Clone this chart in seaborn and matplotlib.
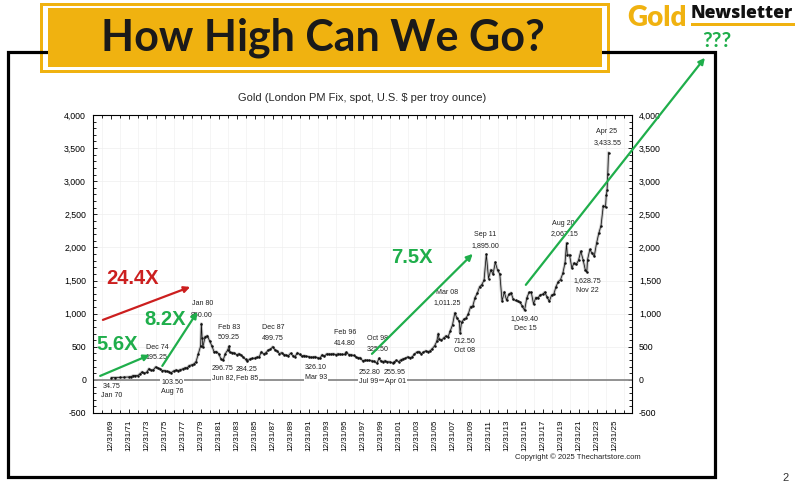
import numpy as np
import pandas as pd
import matplotlib
matplotlib.use("Agg")
import matplotlib.pyplot as plt
import seaborn as sns
from matplotlib.patches import Rectangle
from matplotlib.ticker import MultipleLocator, FuncFormatter

W, H = 800, 492

# gold price, London PM fix
dates = [
    "1970-01", "1970-06", "1970-12", "1971-06", "1971-12", "1972-03", "1972-06", "1972-09", "1972-12",
    "1973-03", "1973-06", "1973-09", "1973-12", "1974-03", "1974-06", "1974-09", "1974-12",
    "1975-03", "1975-06", "1975-09", "1975-12", "1976-03", "1976-06", "1976-08", "1976-12",
    "1977-03", "1977-06", "1977-09", "1977-12", "1978-03", "1978-06", "1978-09", "1978-12",
    "1979-03", "1979-06", "1979-09", "1979-12", "1980-01", "1980-02", "1980-03", "1980-06",
    "1980-09", "1980-12", "1981-03", "1981-06", "1981-09", "1981-12", "1982-03", "1982-06",
    "1982-09", "1982-12", "1983-02", "1983-03", "1983-06", "1983-09", "1983-12", "1984-03",
    "1984-06", "1984-09", "1984-12", "1985-02", "1985-06", "1985-09", "1985-12", "1986-03",
    "1986-06", "1986-09", "1986-12", "1987-03", "1987-06", "1987-09", "1987-12", "1988-03",
    "1988-06", "1988-09", "1988-12", "1989-03", "1989-06", "1989-09", "1989-12", "1990-03",
    "1990-06", "1990-09", "1990-12", "1991-03", "1991-06", "1991-09", "1991-12", "1992-03",
    "1992-06", "1992-09", "1992-12", "1993-03", "1993-06", "1993-09", "1993-12", "1994-03",
    "1994-06", "1994-09", "1994-12", "1995-03", "1995-06", "1995-09", "1995-12", "1996-02",
    "1996-06", "1996-09", "1996-12", "1997-03", "1997-06", "1997-09", "1997-12", "1998-03",
    "1998-06", "1998-09", "1998-12", "1999-03", "1999-07", "1999-10", "1999-12", "2000-03",
    "2000-06", "2000-09", "2000-12", "2001-04", "2001-06", "2001-09", "2001-12", "2002-03",
    "2002-06", "2002-09", "2002-12", "2003-03", "2003-06", "2003-09", "2003-12", "2004-03",
    "2004-06", "2004-09", "2004-12", "2005-03", "2005-06", "2005-09", "2005-12", "2006-03",
    "2006-05", "2006-06", "2006-09", "2006-12", "2007-03", "2007-06", "2007-09", "2007-12",
    "2008-03", "2008-06", "2008-09", "2008-10", "2008-12", "2009-03", "2009-06", "2009-09",
    "2009-12", "2010-03", "2010-06", "2010-09", "2010-12", "2011-03", "2011-06", "2011-09",
    "2011-12", "2012-03", "2012-06", "2012-09", "2012-12", "2013-03", "2013-06", "2013-09",
    "2013-12", "2014-03", "2014-06", "2014-09", "2014-12", "2015-03", "2015-06", "2015-09",
    "2015-12", "2016-03", "2016-06", "2016-09", "2016-12", "2017-03", "2017-06", "2017-09",
    "2017-12", "2018-03", "2018-06", "2018-09", "2018-12", "2019-03", "2019-06", "2019-09",
    "2019-12", "2020-03", "2020-06", "2020-08", "2020-09", "2020-12", "2021-03", "2021-06",
    "2021-09", "2021-12", "2022-03", "2022-06", "2022-09", "2022-11", "2022-12", "2023-03",
    "2023-06", "2023-09", "2023-12", "2024-03", "2024-06", "2024-09", "2024-12", "2025-01",
    "2025-02", "2025-03", "2025-04",
]
prices = [
    34.75, 35.5, 37.4, 40.1, 43.6, 48.5, 65.0, 65.5, 64.9,
    90.0, 120.0, 100.0, 112.3, 168.0, 144.0, 151.8, 195.25,
    177.0, 166.3, 141.3, 140.25, 128.0, 123.8, 103.5, 134.5,
    148.9, 140.8, 154.1, 165.0, 181.0, 183.0, 217.0, 226.0,
    240.0, 277.5, 397.0, 512.0, 850.0, 637.0, 494.0, 653.0,
    666.0, 590.0, 513.0, 422.0, 428.0, 397.0, 320.0, 296.75,
    397.0, 448.0, 509.25, 414.0, 412.0, 405.0, 380.0, 394.0,
    373.0, 341.0, 309.0, 284.25, 317.0, 326.0, 327.0, 344.0,
    345.0, 423.0, 391.0, 409.0, 448.0, 460.0, 499.75, 457.0,
    436.0, 397.0, 410.0, 383.0, 373.0, 366.0, 401.0, 368.0,
    352.0, 408.0, 386.0, 356.0, 368.0, 354.0, 353.0, 341.0,
    343.0, 349.0, 333.0, 326.10, 378.0, 356.0, 391.0, 389.0,
    388.0, 394.0, 383.0, 392.0, 387.0, 384.0, 387.0, 414.80,
    382.0, 379.0, 369.0, 348.0, 334.0, 332.0, 290.0, 297.0,
    296.0, 293.0, 288.0, 280.0, 252.80, 325.50, 290.0, 277.0,
    288.0, 273.0, 272.0, 255.95, 270.0, 293.0, 276.0, 301.0,
    318.0, 324.0, 347.0, 334.0, 346.0, 388.0, 416.0, 427.0,
    395.0, 415.0, 438.0, 427.0, 437.0, 473.0, 513.0, 582.0,
    700.0, 613.0, 599.0, 632.0, 663.0, 650.0, 743.0, 833.0,
    1011.25, 930.0, 884.0, 712.50, 869.0, 916.0, 934.0, 996.0,
    1104.0, 1115.0, 1244.0, 1307.0, 1405.0, 1439.0, 1505.0, 1895.0,
    1531.0, 1662.0, 1598.0, 1776.0, 1657.0, 1598.0, 1192.0, 1326.0,
    1204.0, 1291.0, 1315.0, 1216.0, 1199.0, 1187.0, 1171.0, 1114.0,
    1049.40, 1237.0, 1320.0, 1322.0, 1146.0, 1244.0, 1242.0, 1283.0,
    1291.0, 1325.0, 1250.0, 1187.0, 1279.0, 1295.0, 1409.0, 1485.0,
    1515.0, 1608.0, 1768.0, 2067.15, 1886.0, 1888.0, 1691.0, 1763.0,
    1743.0, 1806.0, 1942.0, 1817.0, 1661.0, 1628.75, 1813.0, 1969.0,
    1912.0, 1870.0, 2062.0, 2214.0, 2330.0, 2630.0, 2610.0, 2790.0,
    2860.0, 3115.0, 3433.55,
]

tick_years = [1970, 1972, 1974, 1976, 1978, 1980, 1982, 1984, 1986, 1988, 1990, 1992, 1994,
              1996, 1998, 2000, 2002, 2004, 2006, 2008, 2010, 2012, 2014, 2016, 2018, 2020,
              2022, 2024, 2026]
tick_labels = ["12/31/69", "12/31/71", "12/31/73", "12/31/75", "12/31/77", "12/31/79",
               "12/31/81", "12/31/83", "12/31/85", "12/31/87", "12/31/89", "12/31/91",
               "12/31/93", "12/31/95", "12/31/97", "12/31/99", "12/31/01", "12/31/03",
               "12/31/05", "12/31/07", "12/31/09", "12/31/11", "12/31/13", "12/31/15",
               "12/31/17", "12/31/19", "12/31/21", "12/31/23", "12/31/25"]

# point labels: text, x (year), y (price units)
label_text = ["34.75", "Jan 70", "Dec 74", "195.25", "103.50", "Aug 76", "Jan 80", "850.00",
              "Feb 83", "509.25", "296.75", "Jun 82", "284.25", "Feb 85", "Dec 87", "499.75",
              "326.10", "Mar 93", "Feb 96", "414.80", "Oct 98", "325.50", "252.80", "255.95",
              "Jul 99", "Apr 01", "Mar 08", "1,011.25", "712.50", "Oct 08", "Sep 11", "1,895.00",
              "1,049.40", "Dec 15", "Aug 20", "2,067.15", "1,628.75", "Nov 22", "Apr 25", "3,433.55"]
label_x = [1970.1, 1970.1, 1975.1, 1975.1, 1976.8, 1976.8, 1980.2, 1980.1,
           1983.1, 1983.1, 1982.4, 1982.4, 1985.1, 1985.1, 1988.0, 1988.0,
           1992.8, 1992.8, 1996.0, 1996.0, 1999.6, 1999.6, 1998.7, 2001.5,
           1998.6, 2001.6, 2007.4, 2007.4, 2009.3, 2009.3, 2011.6, 2011.6,
           2016.0, 2016.0, 2020.3, 2020.4, 2022.9, 2022.9, 2025.1, 2025.2]
label_y = [-106, -242, 483, 332, -45, -181, 1148, 967,
           785, 634, 166, 15, 151, 15, 785, 619,
           181, 30, 710, 544, 619, 453, 106, 106,
           -30, -30, 1314, 1163, 574, 438, 2190, 2024,
           921, 770, 2356, 2205, 1495, 1344, 3746, 3580]

# growth arrows: (x0, y0, x1, y1), multiplier text and its position
green_arrows = [(1968.8, 60, 1974.3, 377), (1975.7, 211, 1979.6, 1027),
                (1999.0, 393, 2010.2, 1903), (2016.1, 1435, 2036.0, 4864)]
red_arrow = (1969.1, 906, 1978.8, 1404)
mult_text = ["24.4X", "5.6X", "8.2X", "7.5X"]
mult_x = [1972.4, 1970.7, 1976.0, 2003.4]
mult_y = [1525, 528, 906, 1842]
mult_color = ["#cc1f1f", "#1fae4b", "#1fae4b", "#1fae4b"]

GOLD = "#f0b210"
GREEN = "#1fae4b"

sns.set_theme(style="ticks")
plt.rcParams["font.family"] = ["Liberation Sans", "DejaVu Sans"]


def fx(px):
    return px / W


def fy(py):
    return 1 - py / H


def year_of(s):
    y, m = s.split("-")
    return int(y) + (int(m) - 0.5) / 12


df = pd.DataFrame({"year": [year_of(d) for d in dates], "price": prices})

fig = plt.figure(figsize=(W / 100, H / 100), dpi=100)
fig.patch.set_facecolor("white")

ax = fig.add_axes([fx(93), fy(413), fx(632) - fx(93), fy(115) - fy(413)])
ax.set_xlim(1968.0, 2027.9)
ax.set_ylim(-500, 4000)

ax.grid(True, which="major", axis="y", color="#efefef", lw=0.5)
ax.set_xticks(np.arange(1968, 2028, 1), minor=True)
ax.grid(True, which="minor", axis="x", color="#f2f2f2", lw=0.5)
ax.axhline(0, color="#8a8a8a", lw=1.3, zorder=1)

sns.lineplot(data=df, x="year", y="price", color="#c4c4c4", lw=2.0, ax=ax, zorder=2)
sns.lineplot(data=df, x="year", y="price", color="#111111", lw=0.55, marker="o",
             markersize=1.8, markeredgewidth=0, ax=ax, zorder=3)

ax.set_xlabel("")
ax.set_ylabel("")
ax.set_xticks(tick_years)
ax.set_xticklabels(tick_labels, rotation=90, fontsize=5.8)
ax.yaxis.set_major_locator(MultipleLocator(500))
ax.yaxis.set_minor_locator(MultipleLocator(100))
ax.yaxis.set_major_formatter(FuncFormatter(lambda v, p: f"{v:,.0f}"))
ax.tick_params(axis="both", which="both", direction="in", top=True, right=True,
               labelright=True, colors="black", width=0.6)
ax.tick_params(axis="both", which="major", length=3, labelsize=6.3, pad=5)
ax.tick_params(axis="x", which="major", labelsize=5.8, pad=5)
ax.tick_params(axis="both", which="minor", length=2)
for sp in ax.spines.values():
    sp.set_visible(True)
    sp.set_color("black")
    sp.set_linewidth(0.8)

ax.set_title("Gold (London PM Fix, spot, U.S. $ per troy ounce)", fontsize=8, pad=10)

for s, x, y in zip(label_text, label_x, label_y):
    kw = {}
    if abs(y) < 120:
        kw["bbox"] = dict(facecolor="white", edgecolor="none", pad=0.6)
    ax.text(x, y, s, ha="center", va="center", fontsize=5.1, color="#222222", zorder=4, **kw)

for x0, y0, x1, y1 in green_arrows:
    ax.annotate("", xy=(x1, y1), xytext=(x0, y0), annotation_clip=False, zorder=6,
                arrowprops=dict(arrowstyle="-|>", color=GREEN, lw=1.6, mutation_scale=9,
                                shrinkA=0, shrinkB=0))
ax.annotate("", xy=red_arrow[2:], xytext=red_arrow[:2], annotation_clip=False, zorder=6,
            arrowprops=dict(arrowstyle="-|>", color="#cc1f1f", lw=1.6, mutation_scale=9,
                            shrinkA=0, shrinkB=0))
for s, x, y, c in zip(mult_text, mult_x, mult_y, mult_color):
    ax.text(x, y, s, ha="center", va="center", fontsize=14.5, fontweight="bold", color=c, zorder=7)

# slide decorations
fig.patches.append(Rectangle((fx(40), fy(73)), fx(610) - fx(40), fy(3) - fy(73),
                             transform=fig.transFigure, facecolor=GOLD, edgecolor="none", zorder=1))
fig.patches.append(Rectangle((fx(43), fy(70)), fx(607) - fx(43), fy(6) - fy(70),
                             transform=fig.transFigure, facecolor="white", edgecolor="none", zorder=2))
fig.patches.append(Rectangle((fx(8), fy(477)), fx(715) - fx(8), fy(52) - fy(477),
                             transform=fig.transFigure, facecolor="none", edgecolor="black",
                             lw=2.3, zorder=3))
fig.patches.append(Rectangle((fx(48), fy(67)), fx(602) - fx(48), fy(8) - fy(67),
                             transform=fig.transFigure, facecolor=GOLD, edgecolor="none", zorder=4))
fig.text(fx(323), fy(38), "How High Can We Go?", ha="center", va="center", fontsize=31,
         fontweight="bold", family=["Lato", "DejaVu Sans"], color="#1a1a1a", zorder=5)

fig.text(fx(627), fy(26), "Gold", ha="left", va="baseline", fontsize=20, fontweight="heavy",
         family=["Lato", "DejaVu Sans"], color=GOLD)
fig.text(fx(691), fy(18.5), "Newsletter", ha="left", va="baseline", fontsize=12.6,
         fontweight="heavy", family=["Open Sans", "DejaVu Sans"], color="#111111")
fig.patches.append(Rectangle((fx(691), fy(25.5)), fx(795) - fx(691), fy(23) - fy(25.5),
                             transform=fig.transFigure, facecolor=GOLD, edgecolor="none"))
fig.text(fx(717), fy(41), "???", ha="center", va="center", fontsize=15, fontweight="bold",
         family=["Lato", "DejaVu Sans"], color=GREEN)

fig.text(fx(578), fy(457), "Copyright \u00a9 2025 Thechartstore.com", ha="center", va="center",
         fontsize=5.5, color="#222222")
fig.text(fx(786), fy(478), "2", ha="center", va="center", fontsize=8, color="#333333")

fig.savefig("out.png", dpi=100)
plt.close(fig)
